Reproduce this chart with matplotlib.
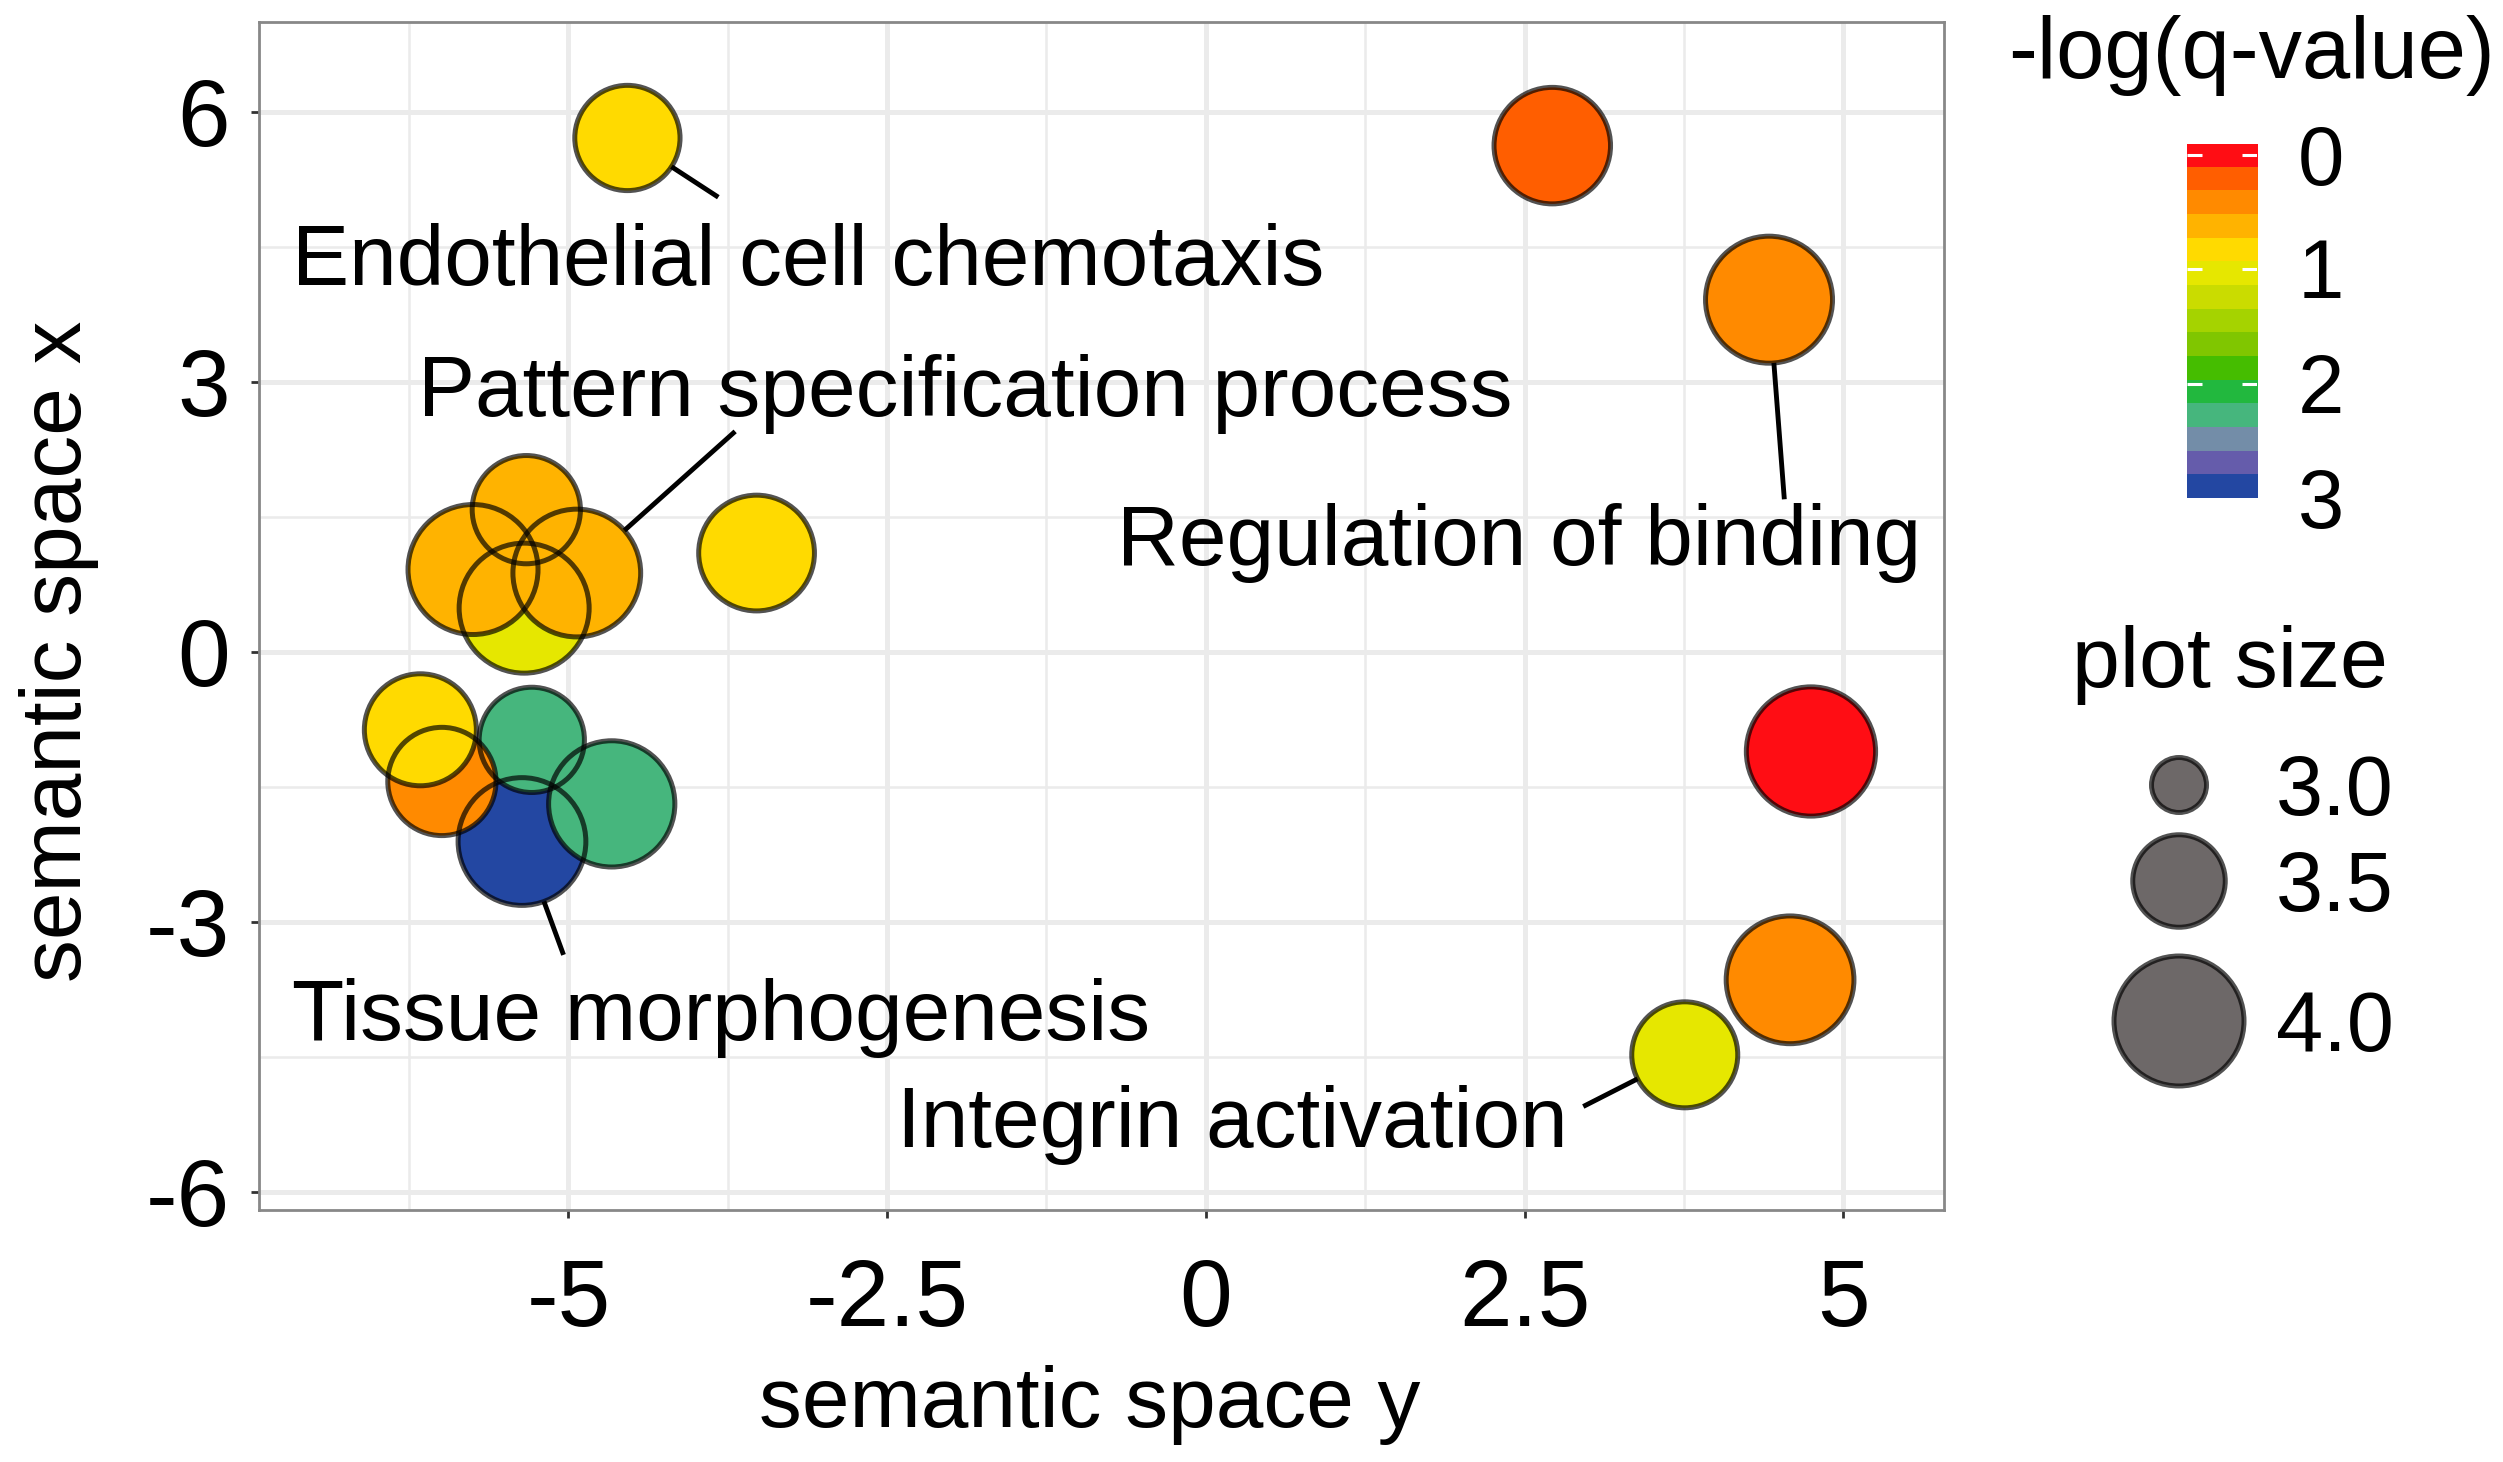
import numpy as np
import matplotlib
matplotlib.use("Agg")
import matplotlib.pyplot as plt
from matplotlib.colors import ListedColormap, Normalize

plt.rcParams['font.family'] = ['Liberation Sans', 'DejaVu Sans']

# ---------------------------------------------------------
# data
# ---------------------------------------------------------
sem_y = [-4.537, 2.717, 4.417, 4.746, 4.582, 3.756, -3.524, -5.347,
         -5.330, -5.748, -4.934, -5.364, -5.287, -4.660, -5.992, -6.161]
sem_x = [5.706, 5.621, 3.910, -1.108, -3.644, -4.477, 1.096, 0.484,
         1.578, 0.913, 0.874, -2.108, -0.979, -1.690, -1.441, -0.867]
log_q = [0.8, 0.2, 0.4, 0.0, 0.4, 1.0, 0.8, 1.0,
         0.6, 0.6, 0.6, 2.9, 2.25, 2.25, 0.4, 0.8]
plot_size = [3.67, 3.82, 3.96, 3.99, 3.97, 3.68, 3.81, 4.00,
             3.71, 4.00, 3.97, 3.97, 3.67, 3.95, 3.71, 3.76]

# labelled terms: index of point, text, text anchor (left, baseline), segment end
label_idx = [0, 10, 2, 11, 5]
label_text = ["Endothelial cell chemotaxis", "Pattern specification process",
              "Regulation of binding", "Tissue morphogenesis", "Integrin activation"]
label_x = [-7.165, -6.176, -0.695, -7.165, -2.422]
label_y = [4.069, 2.615, 0.966, -4.317, -5.505]
seg_x = [-3.824, -3.692, 4.537, -5.038, 2.960]
seg_y = [5.048, 2.447, 1.693, -3.367, -5.051]

# colour bar bins (top = 0, bottom = 3)
bin_colors = ["#FF0D14", "#FF5E00", "#FF8A00", "#FFB300", "#FFDA00",
              "#E6E700", "#CADC00", "#A5D300", "#80C600", "#45BD00",
              "#22B83E", "#46B67D", "#738DA8", "#655CAB", "#2347A2"]
cbar_min, cbar_max = -0.1, 3.0
cbar_ticks = [0, 1, 2, 3]
cbar_labels = ["0", "1", "2", "3"]

legend_sizes = [3.0, 3.5, 4.0]

# ---------------------------------------------------------
# figure
# ---------------------------------------------------------
W, H, DPI = 2503, 1462, 100
fig = plt.figure(figsize=(W / DPI, H / DPI), dpi=DPI)
ax = fig.add_axes([0.1033, 0.1724, 0.6734, 0.8123])

cmap = ListedColormap(bin_colors)
norm = Normalize(vmin=cbar_min, vmax=cbar_max)
edge_px = 5
edge_rgba = (0, 0, 0, 0.68)
TXT = 61.7


def marker_area(v):
    d_px = 60 + 75 * (np.asarray(v) - 3.0)
    return ((d_px - edge_px) * 72 / DPI) ** 2


sizes = marker_area(plot_size)
# fills first, outlines on top (like the two ggplot layers)
ax.scatter(sem_y, sem_x, s=sizes, c=log_q, cmap=cmap, norm=norm,
           linewidths=0, zorder=3)
ax.scatter(sem_y, sem_x, s=sizes, facecolors='none',
           edgecolors=edge_rgba, linewidths=edge_px * 72 / DPI, zorder=4)

for i, txt, lx, ly, sx, sy in zip(label_idx, label_text, label_x, label_y, seg_x, seg_y):
    ax.plot([sem_y[i], sx], [sem_x[i], sy], color='black', lw=3.5,
            solid_capstyle='butt', zorder=2)
    ax.text(lx, ly, txt, fontsize=TXT, ha='left', va='baseline', zorder=5)

ax.set_xlim(-7.43, 5.79)
ax.set_ylim(-6.20, 6.99)
ax.set_xticks([-5, -2.5, 0, 2.5, 5])
ax.set_xticklabels(["-5", "-2.5", "0", "2.5", "5"])
ax.set_yticks([-6, -3, 0, 3, 6])
ax.set_yticklabels(["-6", "-3", "0", "3", "6"])
ax.set_xticks([-6.25, -3.75, -1.25, 1.25, 3.75], minor=True)
ax.set_yticks([-4.5, -1.5, 1.5, 4.5], minor=True)
ax.grid(which='major', color='#EBEBEB', lw=3.6)
ax.grid(which='minor', color='#EBEBEB', lw=1.8)
ax.set_axisbelow(True)
ax.tick_params(which='major', length=5.7, width=2, color='#333333',
               labelsize=68, labelcolor='black')
ax.tick_params(axis='x', pad=28)
ax.tick_params(axis='y', pad=15)
ax.tick_params(which='minor', length=0)
for sp in ax.spines.values():
    sp.set_color('#888888')
    sp.set_linewidth(2)

fig.text(0.4355, 0.0393, "semantic space y", fontsize=TXT, ha='center', va='center')
fig.text(0.0236, 0.5547, "semantic space x", fontsize=TXT, ha='center', va='center',
         rotation=90)

# ---------------------------------------------------------
# colour legend
# ---------------------------------------------------------
cax = fig.add_axes([0.8738, 0.6594, 0.02797, 0.2424])
cax.imshow(np.arange(len(bin_colors)).reshape(-1, 1), cmap=cmap, aspect='auto',
           extent=[0, 1, cbar_max, cbar_min], origin='upper', interpolation='nearest')
cax.set_xlim(0, 1)
cax.set_ylim(cbar_max, cbar_min)
cax.hlines(cbar_ticks[:-1], 0, 0.21, color='white', lw=2.2)
cax.hlines(cbar_ticks[:-1], 0.79, 1, color='white', lw=2.2)
cax.axis('off')

# pixel overlay for legend texts and keys
ov = fig.add_axes([0, 0, 1, 1])
ov.set_xlim(0, W)
ov.set_ylim(H, 0)
ov.axis('off')
ov.patch.set_alpha(0)

ov.text(2008, 78, "-log(q-value)", fontsize=62.5, ha='left', va='baseline')
for lab, yb in zip(cbar_labels, [185, 298, 413, 528]):
    ov.text(2298, yb, lab, fontsize=60, ha='left', va='baseline')

ov.text(2071.6, 687, "plot size", fontsize=62, ha='left', va='baseline')
key_y = [785, 881, 1021]
key_base = [815, 911, 1051]
ks = marker_area(legend_sizes)
ov.scatter([2179] * 3, key_y, s=ks, color='#6d6868', linewidths=0, zorder=3)
ov.scatter([2179] * 3, key_y, s=ks, facecolors='none', edgecolors=edge_rgba,
           linewidths=edge_px * 72 / DPI, zorder=4)
for v, yb in zip(legend_sizes, key_base):
    ov.text(2276, yb, f"{v:.1f}", fontsize=61, ha='left', va='baseline')

fig.savefig("out.png", dpi=DPI)
